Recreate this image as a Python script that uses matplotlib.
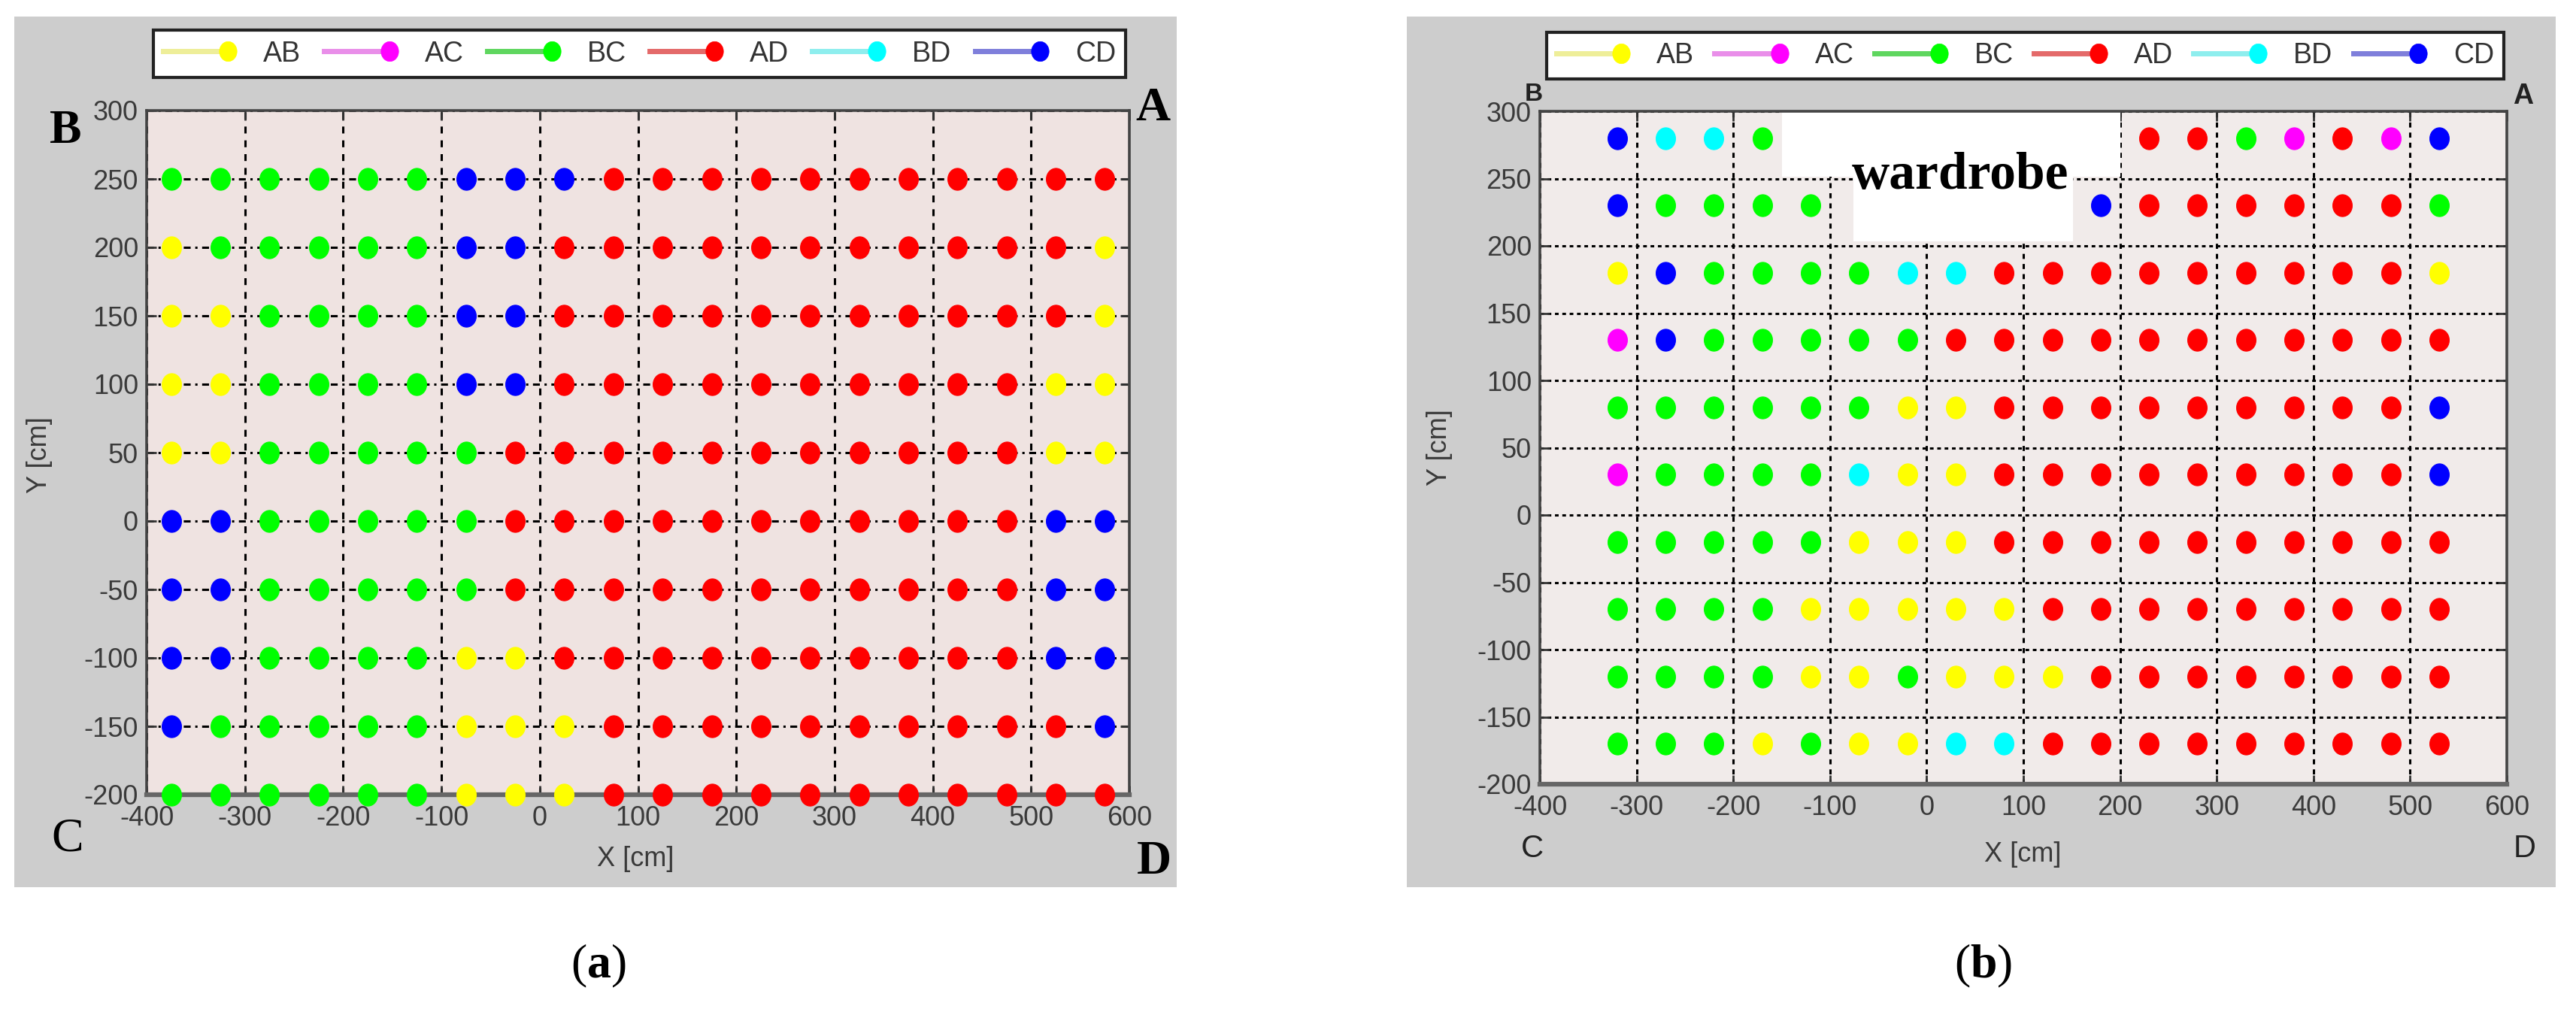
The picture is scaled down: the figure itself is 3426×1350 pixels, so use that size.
import numpy as np
import matplotlib
matplotlib.use('Agg')
import matplotlib.pyplot as plt
from matplotlib.lines import Line2D
from matplotlib.patches import Rectangle
from matplotlib.legend_handler import HandlerLine2D
from matplotlib.path import Path
from matplotlib.font_manager import FontProperties

plt.rcParams['axes.unicode_minus'] = False
plt.rcParams['font.family'] = ['Liberation Sans', 'DejaVu Sans']
plt.rcParams['mathtext.fontset'] = 'custom'
plt.rcParams['mathtext.rm'] = 'Liberation Serif'
plt.rcParams['mathtext.bf'] = 'Liberation Serif:bold'

# ---------------- data ----------------
categories = ['AB', 'AC', 'BC', 'AD', 'BD', 'CD']
codes = ['Y', 'M', 'G', 'R', 'C', 'B']
colors = ['#ffff00', '#ff00ff', '#00ff00', '#ff0000', '#00ffff', '#0000ff']
legend_line_colors = ['#eeee99', '#e98ee9', '#5fd65f', '#e46a6a', '#8eeeee', '#7f7fdb']

# panel (a): estimated zones over a 20 x 10 grid
x_a = [-375, -325, -275, -225, -175, -125, -75, -25, 25, 75,
       125, 175, 225, 275, 325, 375, 425, 475, 525, 575]
y_a = [250, 200, 150, 100, 50, 0, -50, -100, -150, -200]
rows_a = [
    "GGGGGGBBBRRRRRRRRRRR",
    "YGGGGGBBRRRRRRRRRRRY",
    "YYGGGGBBRRRRRRRRRRRY",
    "YYGGGGBBRRRRRRRRRRYY",
    "YYGGGGGRRRRRRRRRRRYY",
    "BBGGGGGRRRRRRRRRRRBB",
    "BBGGGGGRRRRRRRRRRRBB",
    "BBGGGGYYRRRRRRRRRRBB",
    "BGGGGGYYYRRRRRRRRRRB",
    "GGGGGGYYYRRRRRRRRRRR",
]

# panel (b): estimated zones over an 18 x 10 grid ('.' = no point, wardrobe)
x_b = [-320, -270, -220, -170, -120, -70, -20, 30, 80,
       130, 180, 230, 280, 330, 380, 430, 480, 530]
y_b = [280, 230, 180, 130, 80, 30, -20, -70, -120, -170]
rows_b = [
    "BCCG.......RRGMRMB",
    "BGGGG.....BRRRRRRG",
    "YBGGGGCCRRRRRRRRRY",
    "MBGGGGGRRRRRRRRRRR",
    "GGGGGGYYRRRRRRRRRB",
    "MGGGGCYYRRRRRRRRRB",
    "GGGGGYYYRRRRRRRRRR",
    "GGGGYYYYYRRRRRRRRR",
    "GGGGYYGYYYRRRRRRRR",
    "GGGYGYYCCRRRRRRRRR",
]

xticks = [-400, -300, -200, -100, 0, 100, 200, 300, 400, 500, 600]
yticks = [-200, -150, -100, -50, 0, 50, 100, 150, 200, 250, 300]

# ---------------- figure ----------------
W, H = 3426, 1350
fig = plt.figure(figsize=(W / 100, H / 100), dpi=100)
fig.patch.set_facecolor('white')


def fx(px):
    return px / W


def fy(py):
    return 1 - py / H


t = np.linspace(0, 2 * np.pi, 64)
ellipse = Path(np.column_stack([np.cos(t), 1.13 * np.sin(t)]), closed=True)
MS = 21


class RightMarker(HandlerLine2D):
    def create_artists(self, legend, orig_handle, xdescent, ydescent,
                       width, height, fontsize, trans):
        x0 = -xdescent
        x1 = -xdescent + width
        y = (height - ydescent) / 2
        line = Line2D([x0, x1], [y, y])
        self.update_prop(line, orig_handle, legend)
        line.set_marker('None')
        mk = Line2D([x1], [y])
        self.update_prop(mk, orig_handle, legend)
        mk.set_linestyle('None')
        line.set_transform(trans)
        mk.set_transform(trans)
        return [line, mk]


def build_panel(gray_px, ax_px, leg_px, face, xs, ys, rows, hstyle, vstyle):
    gx0, gy0, gx1, gy1 = gray_px
    fig.add_artist(Rectangle((fx(gx0), fy(gy1)), fx(gx1) - fx(gx0), fy(gy0) - fy(gy1),
                             transform=fig.transFigure, facecolor='#cdcdcd',
                             edgecolor='none', zorder=-5))
    ax0, ay0, ax1, ay1 = ax_px
    ax = fig.add_axes([fx(ax0), fy(ay1), fx(ax1) - fx(ax0), fy(ay0) - fy(ay1)])
    ax.set_facecolor(face)
    ax.set_xlim(-400, 600)
    ax.set_ylim(-200, 300)
    ax.set_xticks(xticks)
    ax.set_yticks(yticks)
    ax.tick_params(direction='in', length=9, width=2, color='#333333',
                   labelsize=26, labelcolor='#3a3a3a', top=True, right=True)
    ax.tick_params(axis='x', pad=10)
    ax.tick_params(axis='y', pad=8)
    ax.set_axisbelow(True)
    ax.xaxis.grid(True, color='black', linewidth=2.2, linestyle=vstyle)
    ax.yaxis.grid(True, color='black', linewidth=2.2, linestyle=hstyle)
    for s in ['left', 'top', 'right']:
        ax.spines[s].set_color('#444444')
        ax.spines[s].set_linewidth(2.6)
    ax.spines['bottom'].set_color('#666666')
    ax.spines['bottom'].set_linewidth(4.5)

    for code, col in zip(codes, colors):
        px, py = [], []
        for yv, row in zip(ys, rows):
            for xv, c in zip(xs, row):
                if c == code:
                    px.append(xv)
                    py.append(yv)
        ax.plot(px, py, linestyle='none', marker=ellipse, markersize=MS,
                markerfacecolor=col, markeredgecolor=col, markeredgewidth=0.8,
                zorder=4, clip_on=False)

    handles = [Line2D([], [], color=lc, linewidth=5, marker=ellipse, markersize=MS - 2,
                      markerfacecolor=c, markeredgecolor=c, markeredgewidth=0.5)
               for c, lc in zip(colors, legend_line_colors)]
    lx0, ly0, lx1, ly1 = leg_px
    leg = ax.legend(handles, categories, loc='center', ncol=6, mode='expand',
                    bbox_to_anchor=(fx(lx0), fy(ly1), fx(lx1) - fx(lx0), fy(ly0) - fy(ly1)),
                    bbox_transform=fig.transFigure, frameon=True, fancybox=False,
                    framealpha=1, facecolor='white', edgecolor='#222222',
                    handlelength=2.3, handletextpad=1.25, borderpad=0.35,
                    borderaxespad=0, columnspacing=0.5,
                    prop=FontProperties(family='Liberation Sans', size=27),
                    handler_map={Line2D: RightMarker()})
    leg.get_frame().set_linewidth(3)
    for txt in leg.get_texts():
        txt.set_color('#333333')
    return ax


# panel (a)
ax_a = build_panel((19, 22, 1565, 1180), (195, 147, 1502, 1057), (204, 35, 1497, 108),
                   '#efe3e1', x_a, y_a, rows_a, (0, (3, 2, 1, 2)), (0, (3, 3)))
# panel (b)
ax_b = build_panel((1871, 22, 3399, 1180), (2048, 148, 3334, 1043), (2057, 38, 3330, 110),
                   '#f1ebea', x_b, y_b, rows_b, (0, (1.6, 1.6)), (0, (2.2, 2.2)))

# wardrobe region in panel (b)
ax_b.add_patch(Rectangle((-150, 251.5), 350, 48.5, facecolor='white', edgecolor='none', zorder=2))
ax_b.add_patch(Rectangle((-76, 203.5), 227, 48, facecolor='white', edgecolor='none', zorder=2))
ax_b.text(35, 252, 'wardrobe', ha='center', va='center', fontsize=50,
          family='Liberation Serif', fontweight='bold', color='black', zorder=3)

# axis labels
lab_kw = dict(fontsize=26, color='#3a3a3a', ha='center', va='center')
fig.text(fx(52), fy(605), 'Y [cm]', rotation=90, **lab_kw)
fig.text(fx(845), fy(1142), 'X [cm]', **lab_kw)
fig.text(fx(1914), fy(595), 'Y [cm]', rotation=90, **lab_kw)
fig.text(fx(2690), fy(1136), 'X [cm]', **lab_kw)

# corner letters panel (a)
ser = dict(family='Liberation Serif', fontsize=46, color='black', ha='center', va='center')
fig.text(fx(87), fy(175), 'B', fontweight='bold', **ser)
fig.text(fx(1533), fy(145), 'A', fontweight='bold', **ser)
fig.text(fx(90), fy(1117), 'C', **ser)
fig.text(fx(1535), fy(1147), 'D', fontweight='bold', **ser)

# corner letters panel (b)
sans = dict(family='Liberation Sans', color='#222222', ha='center', va='center')
fig.text(fx(2040), fy(126), 'B', fontsize=24, fontweight='bold', **sans)
fig.text(fx(3356), fy(128), 'A', fontsize=27, fontweight='bold', **sans)
fig.text(fx(2038), fy(1129), 'C', fontsize=30, **sans)
fig.text(fx(3358), fy(1129), 'D', fontsize=30, **sans)

# sub-figure captions
fig.text(fx(796), fy(1285), r'$\mathrm{(}\mathbf{a}\mathrm{)}$', fontsize=46,
         ha='center', va='center', color='black')
fig.text(fx(2638), fy(1285), r'$\mathrm{(}\mathbf{b}\mathrm{)}$', fontsize=46,
         ha='center', va='center', color='black')

fig.savefig('out.png', dpi=100, facecolor='white')
